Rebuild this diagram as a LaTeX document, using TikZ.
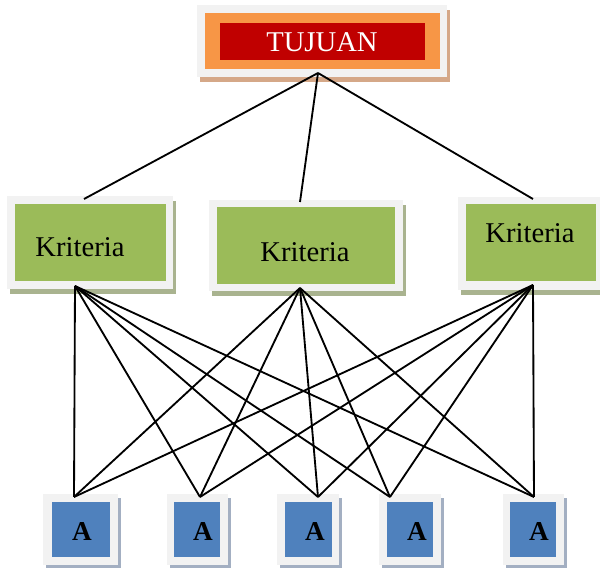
\documentclass[tikz,border=0pt]{standalone}
\usepackage{fontspec}
\setmainfont{Liberation Serif}
\definecolor{framegray}{HTML}{F2F2F2}
\definecolor{tanshadow}{HTML}{D5A888}
\definecolor{greenshadow}{HTML}{A9B38F}
\definecolor{blueshadow}{HTML}{A3AFC2}
\definecolor{orangefill}{HTML}{F79646}
\definecolor{redfill}{HTML}{C00000}
\definecolor{greenfill}{HTML}{9BBB59}
\definecolor{bluefill}{HTML}{4F81BD}
\tikzset{
  link/.style={draw=black, line width=1.05pt},
  lbl/.style={inner sep=0pt, font=\fontsize{16.3}{19}\selectfont},
  albl/.style={inner sep=0pt, font=\fontsize{15.5}{18}\selectfont\bfseries},
}
\begin{document}
\begin{tikzpicture}[x=0.02cm,y=-0.02cm]
\useasboundingbox (0,0) rectangle (600,568);
% ---- goal box
\fill[tanshadow] (200,10) rectangle (450,82);
\fill[framegray] (197,5) rectangle (447,77);
\fill[orangefill] (205,13) rectangle (440,69);
\fill[redfill] (220,23) rectangle (425,60);
\node[lbl, text=white] (goal) at (322,42) {TUJUAN};
% ---- criteria boxes
\fill[greenshadow] (10,201) rectangle (176,294);
\fill[framegray] (7,196) rectangle (173,289);
\fill[greenfill] (15,204) rectangle (166,281);
\node[lbl] (k1) at (80,247) {Kriteria};

\fill[greenshadow] (212,205) rectangle (406,296);
\fill[framegray] (209,200) rectangle (403,291);
\fill[greenfill] (217,207) rectangle (395,284);
\node[lbl] (k2) at (305,252) {Kriteria};

\fill[greenshadow] (461,202) rectangle (605,295);
\fill[framegray] (458,197) rectangle (602,290);
\fill[greenfill] (466,204) rectangle (596,281);
\node[lbl] (k3) at (530,233) {Kriteria};
% ---- alternative boxes
\foreach \gl/\gr/\bl/\br/\tx/\nm in {43/118/52/110/82/a1, 167/228/174/220/203/a2, 277/339/285/332/315/a3, 379/441/387/433/417/a4, 503/564/510/556/539/a5}{
  \fill[blueshadow] (\gl+3,498) rectangle (\gr+3,569);
  \fill[framegray] (\gl,494) rectangle (\gr,565);
  \fill[bluefill] (\bl,502) rectangle (\br,557);
  \node[albl] (\nm) at (\tx,532) {A};
}
% ---- connection points
\coordinate (gb) at (318,73);
\coordinate (k1t) at (84,199);
\coordinate (k2t) at (300,202);
\coordinate (k3t) at (533,199);
\coordinate (k1b) at (75,286);
\coordinate (k2b) at (300,288);
\coordinate (k3b) at (533,285);
\coordinate (a1t) at (74,497);
\coordinate (a2t) at (200,497);
\coordinate (a3t) at (318,497);
\coordinate (a4t) at (390,497);
\coordinate (a5t) at (534,497);
% ---- connectors
\draw[link] (gb) -- (k1t);
\draw[link] (gb) -- (k2t);
\draw[link] (gb) -- (k3t);
\foreach \k in {k1b,k2b,k3b}{
  \foreach \a in {a1t,a2t,a3t,a4t,a5t}{
    \draw[link] (\k) -- (\a);
  }
}
\end{tikzpicture}
\end{document}
